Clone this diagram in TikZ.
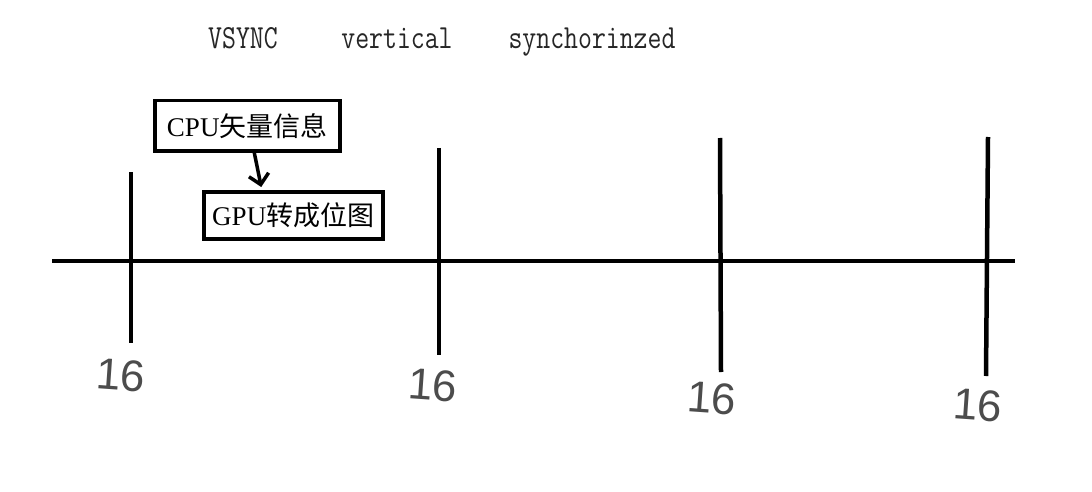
\documentclass[tikz,border=0pt]{standalone}
\usepackage{fontspec}
\setmainfont{Liberation Serif}
\newfontfamily\cjk{Noto Sans CJK SC}
\newfontfamily\hand{Liberation Sans}
\usetikzlibrary{arrows.meta}
\begin{document}
\begin{tikzpicture}[x=1pt,y=-1pt,
  thick line/.style={line width=4pt},
  tick line/.style={line width=4.5pt},
  box/.style={draw,line width=3.5pt,inner sep=0pt,minimum height=50pt,anchor=north west},
  title/.style={font=\fontsize{27}{27}\selectfont\ttfamily,text=black!85,anchor=base,inner sep=0pt},
  num/.style={font=\fontsize{44}{44}\selectfont\hand,text=black!70,inner sep=0pt}]
\useasboundingbox (0,0) rectangle (1092,492);
\fill[white] (0,0) rectangle (1092,492);
% title
\node[title] (t1) at (243,49) {\scalebox{1}[1.25]{VSYNC}};
\node[title] (t2) at (397,49) {\scalebox{1}[1.25]{vertical}};
\node[title] (t3) at (592,49) {\scalebox{1}[1.25]{synchorinzed}};
% timeline
\coordinate (L) at (52,261);
\coordinate (R) at (1015,261);
\draw[thick line] (L) -- (R);
\coordinate (v1t) at (131,172); \coordinate (v1b) at (131,343);
\coordinate (v2t) at (439,148); \coordinate (v2b) at (439,355);
\coordinate (v3t) at (720,138); \coordinate (v3b) at (721,372);
\coordinate (v4t) at (988,137); \coordinate (v4b) at (986,376);
\draw[tick line] (v1t) -- (v1b);
\draw[tick line] (v2t) -- (v2b);
\draw[tick line] (v3t) -- (v3b);
\draw[tick line] (v4t) -- (v4b);
% labels 16
\node[num,rotate=-4] (n1) at (121,375) {16};
\node[num,rotate=-4] (n2) at (433,385) {16};
\node[num,rotate=-4] (n3) at (712,398) {16};
\node[num,rotate=-4] (n4) at (978,405) {16};
% boxes
\node[box,minimum width=185pt] (b1) at (153,99) {};
\node[font=\fontsize{27}{27}\selectfont] (b1t) at (b1.center) {CPU{\cjk 矢量信息}};
\node[box,minimum width=179pt,minimum height=47pt] (b2) at (202,190) {};
\node[font=\fontsize{27}{27}\selectfont] (b2t) at (b2.center) {GPU{\cjk 转成位图}};
% arrow
\coordinate (a1) at ([xshift=7pt]b1.south);
\coordinate (a2) at ([xshift=-32pt,yshift=3pt]b2.north);
\draw[line width=3.5pt,-{Straight Barb[length=10pt,width=20pt]}] (a1) -- (a2);
\end{tikzpicture}
\end{document}
